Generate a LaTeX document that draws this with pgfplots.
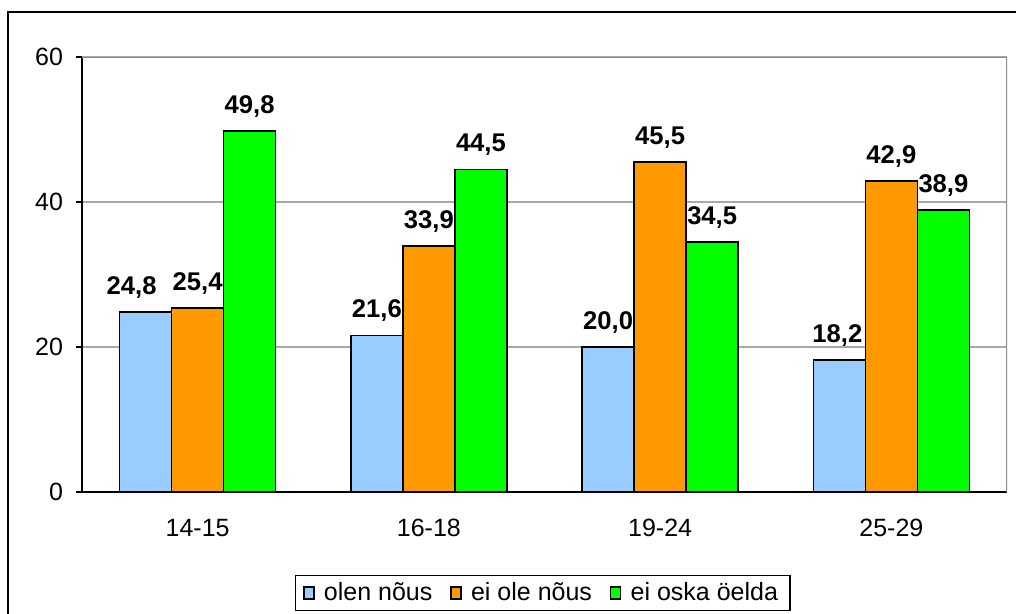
\documentclass[border=0pt]{standalone}
\usepackage{pgfplots}
\pgfplotsset{compat=1.18}
\usepackage{fontspec}
\setmainfont{Liberation Sans}
\definecolor{cblue}{HTML}{99CCFF}
\definecolor{corange}{HTML}{FF9900}
\definecolor{cgreen}{HTML}{00FF00}
\definecolor{gridgray}{HTML}{A8A8A8}
\definecolor{boxgray}{HTML}{8C8C8C}
\begin{document}
\begin{tikzpicture}
\useasboundingbox (0,0) rectangle (508pt,307pt);
\draw[black, line width=1pt] (4pt,-10pt) rectangle (520pt,301pt);
\begin{axis}[
  at={(41pt,61pt)}, anchor=south west,
  scale only axis, width=462.5pt, height=217.5pt,
  ybar, xmin=0.5, xmax=4.5, ymin=0, ymax=60,
  bar width=0.225,
  axis x line*=bottom, axis y line*=left,
  axis line style={black, line width=0.8pt},
  xtick={1,2,3,4}, xticklabels={14-15,16-18,19-24,25-29},
  x tick style={draw=none},
  extra x ticks={0.5,1.5,2.5,3.5,4.5}, extra x tick labels={},
  extra x tick style={tick align=outside, major tick length=3pt, tick style={draw=black, line width=0.8pt}, grid=none},
  ytick={0,20,40,60},
  y tick style={black, line width=0.8pt},
  tick align=outside, major tick length=3pt,
  ymajorgrids, grid style={gridgray, line width=0.6pt},
  /pgf/number format/assume math mode=true,
  tick label style={font=\fontsize{12.5}{14}\selectfont},
  yticklabel style={xshift=-3pt},
  xticklabel style={yshift=-7pt},
  nodes near coords,
  nodes near coords style={font=\bfseries\fontsize{12.8}{14}\selectfont, yshift=3pt, /pgf/number format/fixed, /pgf/number format/fixed zerofill, /pgf/number format/precision=1, /pgf/number format/use comma, /pgf/number format/assume math mode=true},
  legend style={at={(0.498,-0.232)}, anchor=center, legend columns=3, draw=black, line width=0.6pt, font=\fontsize{12.5}{14}\selectfont, inner xsep=4pt, inner ysep=1.5pt, /tikz/every even column/.append style={column sep=7pt}},
  legend image code/.code={\draw[#1, line width=0.7pt] (0pt,-3pt) rectangle (5pt,3pt); \path[draw=none, fill=none] (0pt,0pt) -- (8pt,0pt);},
]
\draw[boxgray, line width=1pt] (rel axis cs:0,1) -- (rel axis cs:1,1) -- (rel axis cs:1,0);
\addplot[fill=cblue, draw=black, line width=0.8pt, bar shift=-0.225,
  visualization depends on={\thisrow{s} \as \lblshift},
  nodes near coords style={xshift=\lblshift pt}] table {
x y s
1 24.8 -7
2 21.6 0
3 20.0 0
4 18.2 -1
};
\addplot[fill=corange, draw=black, line width=0.8pt, bar shift=0] coordinates {(1,25.4) (2,33.9) (3,45.5) (4,42.9)};
\addplot[fill=cgreen, draw=black, line width=0.8pt, bar shift=0.225] coordinates {(1,49.8) (2,44.5) (3,34.5) (4,38.9)};
\legend{olen nõus, ei ole nõus, ei oska öelda}
\end{axis}
\end{tikzpicture}
\end{document}
